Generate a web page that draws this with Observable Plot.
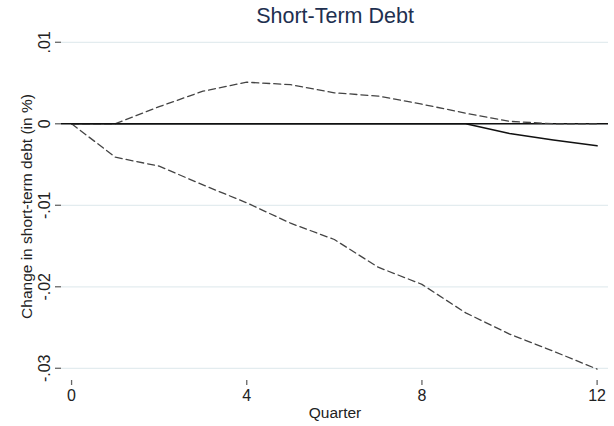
<!DOCTYPE html>
<html>
<head>
<meta charset="utf-8">
<script src="https://cdn.jsdelivr.net/npm/d3@7"></script>
<script src="https://cdn.jsdelivr.net/npm/@observablehq/plot@0.6"></script>
<style>
  html, body { margin: 0; padding: 0; background: #fff; }
  #chart svg { display: block; }
</style>
</head>
<body>
<div id="chart"></div>
<script>
const title = "Short-Term Debt";
const xLabel = "Quarter";
const yLabel = "Change in short-term debt (in %)";
const quarters = [0, 1, 2, 3, 4, 5, 6, 7, 8, 9, 10, 11, 12];
const estimate = [0, 0, 0, 0, 0, 0, 0, 0, 0, 0, -0.0012, -0.0020, -0.0027];
const upper = [0, 0, 0.0021, 0.0040, 0.0051, 0.0048, 0.0038, 0.0034, 0.0024, 0.0013, 0.0003, 0.0000, 0.0000];
const lower = [0, -0.0041, -0.0052, -0.0075, -0.0097, -0.0122, -0.0142, -0.0176, -0.0197, -0.0232, -0.0258, -0.0279, -0.0301];
const xTicks = [0, 4, 8, 12];
const yTicks = [-0.03, -0.02, -0.01, 0, 0.01];
const yTickLabels = ["-.03", "-.02", "-.01", "0", ".01"];

const rows = quarters.map((q, i) => ({q, est: estimate[i], hi: upper[i], lo: lower[i]}));
const yTickRows = yTicks.map((v, i) => ({v, label: yTickLabels[i]}));

const font = "Liberation Sans, Arial, sans-serif";
const plot = Plot.plot({
  width: 614,
  height: 426,
  marginTop: 32,
  marginLeft: 61,
  marginRight: 6,
  marginBottom: 46,
  style: {fontFamily: font, fontSize: "16px", color: "#222", background: "#fff"},
  x: {domain: [-0.23, 12.26]},
  y: {domain: [-0.0315, 0.0112]},
  marks: [
    Plot.gridY(yTicks, {stroke: "#e3ecef", strokeOpacity: 1, strokeWidth: 1.2}),
    Plot.ruleY([0], {stroke: "#111", strokeWidth: 1.4}),
    Plot.line(rows, {x: "q", y: "hi", stroke: "#444", strokeWidth: 1.3, strokeDasharray: "7,4"}),
    Plot.line(rows, {x: "q", y: "lo", stroke: "#444", strokeWidth: 1.3, strokeDasharray: "7,4"}),
    Plot.line(rows, {x: "q", y: "est", stroke: "#111", strokeWidth: 1.5}),
    Plot.axisY({ticks: yTicks, tickSize: 6, line: true, stroke: "#666", strokeWidth: 1.3, tickFormat: () => "", label: null}),
    Plot.text(yTickRows, {y: "v", text: "label", frameAnchor: "left", textAnchor: "middle", dx: -17, rotate: -90, fontSize: 16, fill: "#222"}),
    Plot.axisX({ticks: xTicks, tickSize: 5, tickPadding: 4, line: true, stroke: "#666", strokeWidth: 1.3, fontSize: 16, fill: "#222", label: null}),
    Plot.text([xLabel], {frameAnchor: "bottom", dy: 37, fontSize: 15.5, fill: "#222"}),
    Plot.text([yLabel], {frameAnchor: "left", textAnchor: "middle", dx: -34, rotate: -90, fontSize: 15.5, fill: "#222"}),
    Plot.text([title], {frameAnchor: "top", textAnchor: "middle", lineAnchor: "middle", dy: -16, fontSize: 21.5, fill: "#1e3050"})
  ]
});
document.getElementById("chart").appendChild(plot);
</script>
</body>
</html>
